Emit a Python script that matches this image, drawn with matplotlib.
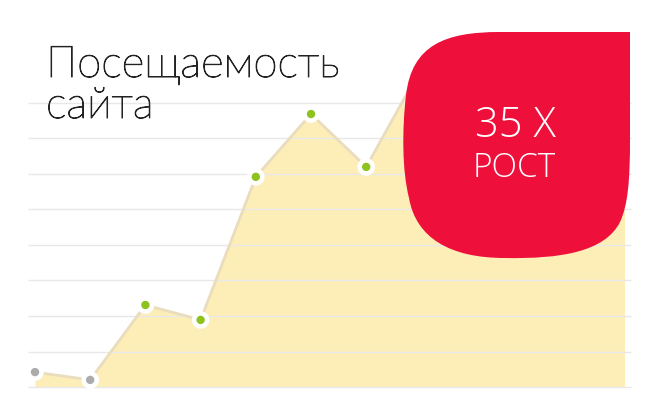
import numpy as np
import matplotlib

matplotlib.use("Agg")
import matplotlib.pyplot as plt
import matplotlib.patheffects as pe
from matplotlib.path import Path
from matplotlib.patches import PathPatch


# ---------------------------------------------------------------------------
# Data (site visits, arbitrary units; last points sit behind the badge)
# ---------------------------------------------------------------------------
visits = [0.42, 0.20, 2.31, 1.89, 5.92, 7.69, 6.20, 9.00, 8.50, 9.30, 9.00, 9.40]
highlighted = [False, False, True, True, True, True, True, True, True, True, True]
grid_levels = [0, 1, 2, 3, 4, 5, 6, 7, 8]

title_lines = ["Посещаемость", "сайта"]
badge_lines = ["35 X", "РОСТ"]

# ---------------------------------------------------------------------------
# Style
# ---------------------------------------------------------------------------
FILL = "#fdedb7"
EDGE = "#e9ddbe"
GREEN = "#8dc21f"
GRAY = "#ababab"
GRID = "#e8e8e8"
RED = "#ee0f3b"
TEXT = "#222222"

W, H = 656, 411
fig = plt.figure(figsize=(W / 100, H / 100), dpi=100)
fig.patch.set_facecolor("white")

# --- main area chart -------------------------------------------------------
x0, x1, ybase, ytop = 35, 624, 387, 32
ax = fig.add_axes([x0 / W, (H - ybase) / H, (x1 - x0) / W, (ybase - ytop) / H])
x = np.arange(len(visits))
ax.set_xlim(0, 10.67)
ax.set_ylim(0, 10)
ax.axis("off")

ax.fill_between(x, visits, 0, color=FILL, linewidth=0, zorder=1)
ax.hlines(grid_levels, -0.012, 1.012, transform=ax.get_yaxis_transform(),
          color=GRID, linewidth=1.0, clip_on=False, zorder=2)
ax.plot(x, visits, color=EDGE, linewidth=2.0, zorder=3)

n_mark = len(highlighted)
colors = [GREEN if h else GRAY for h in highlighted]
ax.scatter(x[:n_mark], visits[:n_mark], s=88, c=colors, edgecolors="white",
           linewidths=3.3, zorder=4, clip_on=False)

# --- overlay in pixel coordinates -------------------------------------------
ov = fig.add_axes([0, 0, 1, 1], zorder=5)
ov.set_xlim(0, W)
ov.set_ylim(H, 0)
ov.axis("off")
ov.patch.set_alpha(0)

verts = [
    (630, 32), (500, 32),
    (445, 32), (412, 45), (406, 95),
    (402, 130), (402, 170), (409, 198),
    (416, 238), (450, 258), (505, 258),
    (560, 259), (605, 252), (620, 222),
    (628, 205), (630, 180), (630, 140),
    (630, 32),
]
codes = ([Path.MOVETO, Path.LINETO] + [Path.CURVE4] * 15 + [Path.CLOSEPOLY])
ov.add_patch(PathPatch(Path(verts, codes), facecolor=RED, edgecolor="none"))

# thin title face, slightly thickened to match the light weight of the original
thicken = [pe.withStroke(linewidth=0.7, foreground=TEXT)]
for line, base in zip(title_lines, [77, 118]):
    ov.text(46, base, line, fontsize=31.5, color=TEXT, family="Lato",
            fontweight="light", va="baseline", ha="left", path_effects=thicken)

ov.text(515, 137, badge_lines[0], fontsize=30, color="white", family="Open Sans",
        fontweight="light", va="baseline", ha="center")
ov.text(514, 177, badge_lines[1], fontsize=24, color="white", family="Open Sans",
        fontweight="light", va="baseline", ha="center")

fig.savefig("out.png", dpi=100)
